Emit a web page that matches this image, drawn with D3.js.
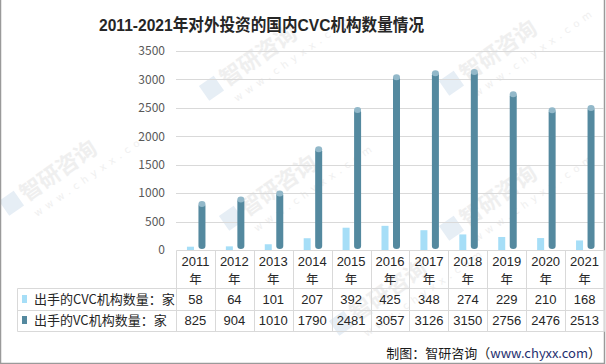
<!DOCTYPE html>
<html><head><meta charset="utf-8">
<script src="https://cdn.jsdelivr.net/npm/d3@7"></script>
<style>body{margin:0;background:#fff}svg{display:block}</style>
</head><body>
<svg id="c" width="606" height="364"></svg>
<script>
const years = ["2011","2012","2013","2014","2015","2016","2017","2018","2019","2020","2021"];
const cvc = [58,64,101,207,392,425,348,274,229,210,168];
const vc = [825,904,1010,1790,2481,3057,3126,3150,2756,2476,2513];
const seriesNames = ["出手的CVC机构数量：家","出手的VC机构数量：家"];
const yTicks = [0,500,1000,1500,2000,2500,3000,3500];
const title = "2011-2021年对外投资的国内CVC机构数量情况";

const svg = d3.select("#c");
const CJK = "'Noto Sans CJK SC','Noto Sans',sans-serif";
const LAT = "'Liberation Sans','Noto Sans CJK SC',sans-serif";
const lightC = "#a6def7", darkC = "#54899f", darkTop = "#92b8c9";
const gridC = "#d9d9d9";

// watermarks
function watermark(x, y) {
  const g = svg.append("g").attr("transform", `translate(${x},${y}) rotate(-35)`).attr("opacity", 0.6);
  g.append("rect").attr("x", -26).attr("y", -17).attr("width", 18).attr("height", 18).attr("fill", "#d6e3f0");
  g.append("text").attr("x", -4).attr("y", 0).attr("font-family", CJK).attr("font-weight", "bold")
    .attr("font-size", 22).attr("fill", "#e6e6e6").text("智研咨询");
  g.append("text").attr("x", -4).attr("y", 18).attr("font-family", "'DejaVu Sans',sans-serif")
    .attr("font-size", 10).attr("fill", "#e6e6e6").attr("letter-spacing", 5).text("www.chyxx.com");
}
[[230,85],[470,80],[30,200],[250,215],[470,225],[360,320]].forEach(p => watermark(p[0], p[1]));

// frame
svg.append("path").attr("d", "M0.5,0 V363.5 H604.5 V0").attr("fill", "none").attr("stroke", "#9a9a9a").attr("stroke-width", 1.5);

// title
svg.append("text").attr("x", 99).attr("y", 31)
  .attr("font-family", LAT).attr("font-weight", "bold")
  .attr("font-size", 17).attr("fill", "#262626")
  .attr("textLength", 325).attr("lengthAdjust", "spacingAndGlyphs").text(title);

const x = d3.scaleBand().domain(years).range([176, 604]);
const y = d3.scaleLinear().domain([0, 3500]).range([250, 51]);

// gridlines
svg.append("g").selectAll("line").data(yTicks.filter(d => d > 0)).join("line")
  .attr("x1", 176).attr("x2", 604).attr("y1", d => Math.round(y(d)) + 0.5).attr("y2", d => Math.round(y(d)) + 0.5)
  .attr("stroke", gridC);

// y axis labels
const yAxis = d3.axisLeft(y).tickValues(yTicks).tickFormat(d3.format("d")).tickSize(0).tickPadding(0);
const ya = svg.append("g").attr("transform", "translate(165,0)").call(yAxis);
ya.select(".domain").remove();
ya.selectAll("text").attr("font-family", CJK).attr("font-size", 12).attr("fill", "#595959");

// bars
const bw = x.bandwidth();
svg.append("g").selectAll("rect").data(cvc).join("rect")
  .attr("x", (d, i) => x(years[i]) + bw / 2 - 8.5).attr("width", 7)
  .attr("y", d => y(d)).attr("height", d => y(0) - y(d)).attr("fill", lightC);

const dg = svg.append("g").selectAll("g").data(vc).join("g");
dg.append("rect")
  .attr("x", (d, i) => x(years[i]) + bw / 2 + 3).attr("width", 7)
  .attr("y", d => y(d)).attr("height", d => y(0) - y(d) - 1).attr("rx", 3.5).attr("ry", 3)
  .attr("fill", darkC);
dg.append("ellipse")
  .attr("cx", (d, i) => x(years[i]) + bw / 2 + 6.5).attr("cy", d => y(d) + 1)
  .attr("rx", 3.5).attr("ry", 3).attr("fill", darkTop);

// table
const tg = svg.append("g");
const lines = [];
lines.push([176, 250, 604, 250]);
[288, 310, 331].forEach(v => lines.push([17, v, 604, v]));
years.forEach((yr, i) => lines.push([x(yr), 250, x(yr), 331]));
lines.push([604, 250, 604, 331]);
lines.push([17, 288, 17, 331]);
tg.selectAll("line").data(lines).join("line")
  .attr("x1", d => Math.round(d[0]) + 0.5).attr("y1", d => Math.round(d[1]) + 0.5)
  .attr("x2", d => Math.round(d[2]) + 0.5).attr("y2", d => Math.round(d[3]) + 0.5)
  .attr("stroke", gridC);

tg.append("g").selectAll("text").data(years).join("text")
  .attr("x", d => x(d) + bw / 2).attr("y", 266).attr("text-anchor", "middle")
  .attr("font-family", LAT).attr("font-size", 13).attr("fill", "#262626").text(d => d);
tg.append("g").selectAll("text").data(years).join("text")
  .attr("x", d => x(d) + bw / 2).attr("y", 284).attr("text-anchor", "middle")
  .attr("font-family", CJK).attr("font-size", 12.5).attr("fill", "#262626").text("年");

[cvc, vc].forEach((arr, r) => {
  const cy = r === 0 ? 304 : 325;
  tg.append("g").selectAll("text").data(arr).join("text")
    .attr("x", (d, i) => x(years[i]) + bw / 2).attr("y", cy).attr("text-anchor", "middle")
    .attr("font-family", LAT).attr("font-size", 13).attr("fill", "#262626").text(d => d);
  tg.append("rect").attr("x", 22).attr("y", cy - 9).attr("width", 5).attr("height", 8)
    .attr("fill", r === 0 ? lightC : darkC);
  tg.append("text").attr("x", 34).attr("y", cy).attr("font-family", CJK).attr("font-size", 13)
    .attr("fill", "#262626").text(seriesNames[r]);
});

// footer
const ft = svg.append("text").attr("x", 601).attr("y", 358).attr("text-anchor", "end")
  .attr("font-family", CJK).attr("font-size", 13).attr("fill", "#1a1a1a");
ft.append("tspan").text("制图：智研咨询（");
ft.append("tspan").attr("fill", "#1f2f6f").text("www.chyxx.com");
ft.append("tspan").text("）");
</script>
</body></html>
